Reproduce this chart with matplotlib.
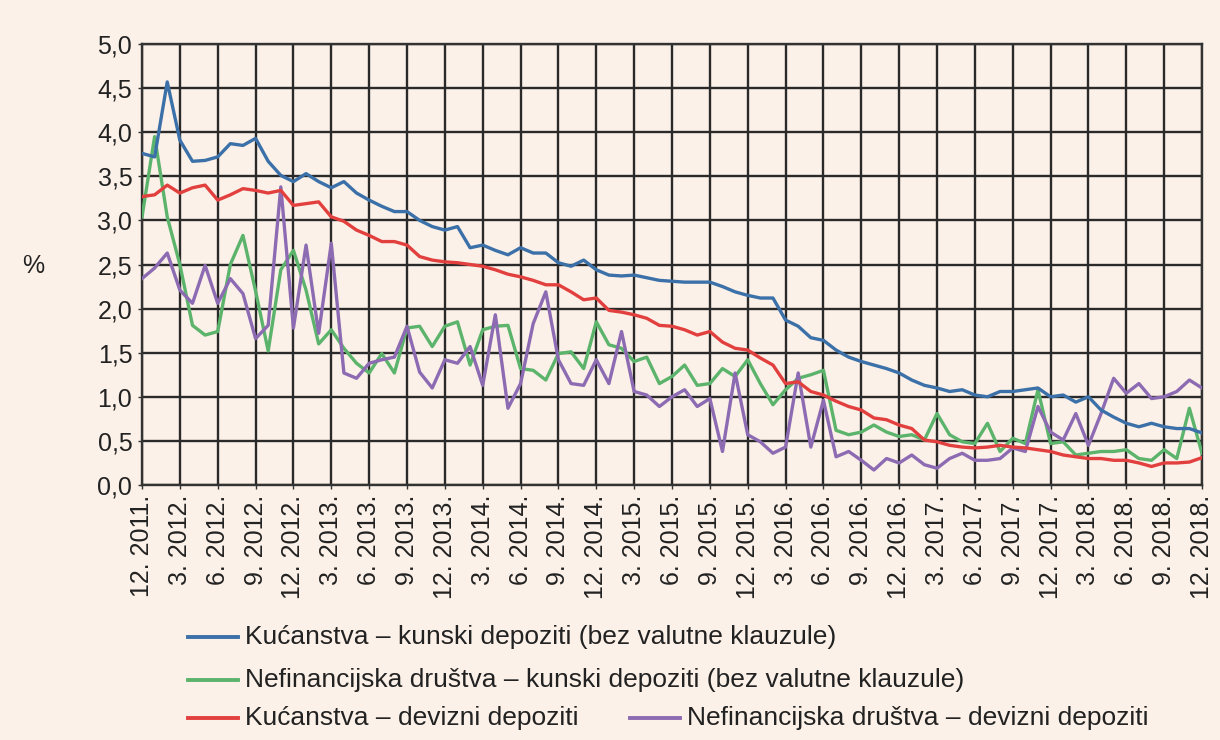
import matplotlib
matplotlib.use("Agg")
import matplotlib.pyplot as plt
from matplotlib.lines import Line2D
import numpy as np

# months 12.2011 .. 12.2018
months = [(12 + k - 1) % 12 + 1 for k in range(85)]
years = [2011 + (11 + k) // 12 for k in range(85)]
quarter_labels = [f"{m}. {y}." for m, y in zip(months, years)][::3]

kuc_kunski = [3.76, 3.72, 4.57, 3.91, 3.67, 3.68, 3.72, 3.87, 3.85, 3.93,
              3.67, 3.51, 3.44, 3.53, 3.44, 3.37, 3.44, 3.31, 3.23, 3.16,
              3.10, 3.10, 3.00, 2.93, 2.89, 2.93, 2.69, 2.72, 2.66, 2.61,
              2.69, 2.63, 2.63, 2.52, 2.48, 2.55, 2.44, 2.38, 2.37, 2.38,
              2.35, 2.32, 2.31, 2.30, 2.30, 2.30, 2.25, 2.19, 2.15, 2.12,
              2.12, 1.87, 1.80, 1.67, 1.64, 1.53, 1.45, 1.40, 1.36, 1.32,
              1.27, 1.19, 1.13, 1.10, 1.06, 1.08, 1.02, 1.00, 1.06, 1.06,
              1.08, 1.10, 1.00, 1.02, 0.94, 1.00, 0.85, 0.77, 0.70, 0.66,
              0.70, 0.66, 0.64, 0.64, 0.59]

nef_kunski = [3.04, 3.95, 3.04, 2.50, 1.81, 1.70, 1.74, 2.50, 2.83, 2.20,
              1.52, 2.44, 2.66, 2.21, 1.60, 1.76, 1.55, 1.38, 1.27, 1.49,
              1.27, 1.78, 1.80, 1.57, 1.80, 1.85, 1.36, 1.76, 1.80, 1.81,
              1.32, 1.30, 1.19, 1.49, 1.51, 1.32, 1.85, 1.59, 1.55, 1.40,
              1.45, 1.15, 1.23, 1.36, 1.13, 1.15, 1.32, 1.23, 1.42, 1.15,
              0.91, 1.08, 1.21, 1.25, 1.30, 0.62, 0.57, 0.60, 0.68, 0.60,
              0.55, 0.57, 0.51, 0.81, 0.57, 0.49, 0.47, 0.70, 0.38, 0.53,
              0.47, 1.08, 0.47, 0.49, 0.34, 0.36, 0.38, 0.38, 0.40, 0.30,
              0.28, 0.40, 0.30, 0.87, 0.36]

kuc_devizni = [3.27, 3.29, 3.40, 3.31, 3.37, 3.40, 3.23, 3.29, 3.36, 3.34,
               3.31, 3.34, 3.17, 3.19, 3.21, 3.04, 2.99, 2.89, 2.83, 2.76,
               2.76, 2.72, 2.59, 2.55, 2.53, 2.52, 2.50, 2.48, 2.44, 2.39,
               2.36, 2.32, 2.27, 2.27, 2.19, 2.10, 2.12, 1.98, 1.96, 1.93,
               1.89, 1.81, 1.80, 1.76, 1.70, 1.74, 1.62, 1.55, 1.53, 1.44,
               1.36, 1.15, 1.17, 1.06, 1.02, 0.95, 0.89, 0.85, 0.76, 0.74,
               0.68, 0.64, 0.51, 0.49, 0.45, 0.43, 0.42, 0.43, 0.45, 0.43,
               0.42, 0.40, 0.38, 0.34, 0.32, 0.30, 0.30, 0.28, 0.28, 0.25,
               0.21, 0.25, 0.25, 0.26, 0.31]

nef_devizni = [2.34, 2.46, 2.63, 2.21, 2.06, 2.49, 2.06, 2.34, 2.17, 1.66,
               1.81, 3.38, 1.78, 2.72, 1.72, 2.74, 1.27, 1.21, 1.38, 1.42,
               1.45, 1.80, 1.28, 1.10, 1.42, 1.38, 1.57, 1.13, 1.93, 0.87,
               1.15, 1.83, 2.19, 1.42, 1.15, 1.13, 1.42, 1.15, 1.74, 1.06,
               1.02, 0.89, 1.00, 1.08, 0.89, 0.98, 0.38, 1.27, 0.57, 0.49,
               0.36, 0.43, 1.27, 0.43, 0.96, 0.32, 0.38, 0.28, 0.17, 0.30,
               0.25, 0.34, 0.23, 0.19, 0.30, 0.36, 0.28, 0.28, 0.30, 0.42,
               0.38, 0.89, 0.60, 0.51, 0.81, 0.45, 0.81, 1.21, 1.04, 1.15,
               0.98, 1.00, 1.06, 1.19, 1.10]

series_names = ["Kućanstva – kunski depoziti (bez valutne klauzule)",
                "Nefinancijska društva – kunski depoziti (bez valutne klauzule)",
                "Kućanstva – devizni depoziti",
                "Nefinancijska društva – devizni depoziti"]
colors = ["#3b70a8", "#5cb46c", "#e2403e", "#8d6bb3"]
y_ticks = [0.0, 0.5, 1.0, 1.5, 2.0, 2.5, 3.0, 3.5, 4.0, 4.5, 5.0]

bg = "#fbf1e8"
plt.rcParams['font.family'] = ['Liberation Sans Narrow', 'Liberation Sans', 'DejaVu Sans']

fig = plt.figure(figsize=(12.2, 7.4), dpi=100, facecolor=bg)
ax = fig.add_axes([142/1220, 1 - 485/740, (1202-142)/1220, (485-44)/740])
ax.set_facecolor(bg)

x = np.arange(85)
data = [kuc_kunski, nef_kunski, kuc_devizni, nef_devizni]
for idx in [1, 3, 2, 0]:
    ax.plot(x, data[idx], color=colors[idx], lw=2.4, solid_joinstyle='round', zorder=3)

ax.set_xlim(0, 84)
ax.set_ylim(0, 5)
ax.set_yticks(y_ticks)
ax.set_yticklabels([f"{v:.1f}".replace('.', ',') for v in y_ticks], fontsize=18,
                   color='#222222')
ax.set_xticks(x[::3])
ax.set_xticklabels(quarter_labels, rotation=90, fontsize=18, color='#222222')
ax.tick_params(axis='both', length=3, width=1, color='#333333', pad=4)
ax.grid(True, color='#2a2a2a', lw=1.7, zorder=1)
for s in ax.spines.values():
    s.set_color('#333333')
    s.set_linewidth(1.7)

fig.text(33/1220, 1 - 266/740, "%", fontsize=18, ha='center', va='center', color='#222222')

# legend
rows = [(188, 637, 0), (188, 680, 1), (188, 718, 2), (630, 718, 3)]
for lx, ly, idx in rows:
    yy = 1 - ly/740
    fig.add_artist(Line2D([lx/1220, (lx+50)/1220], [yy, yy], color=colors[idx], lw=2.8,
                          transform=fig.transFigure))
    fig.text((lx+57)/1220, yy, series_names[idx], fontsize=19, va='center', ha='left',
             color='#222222')

fig.savefig("out.png", dpi=100, facecolor=bg)
